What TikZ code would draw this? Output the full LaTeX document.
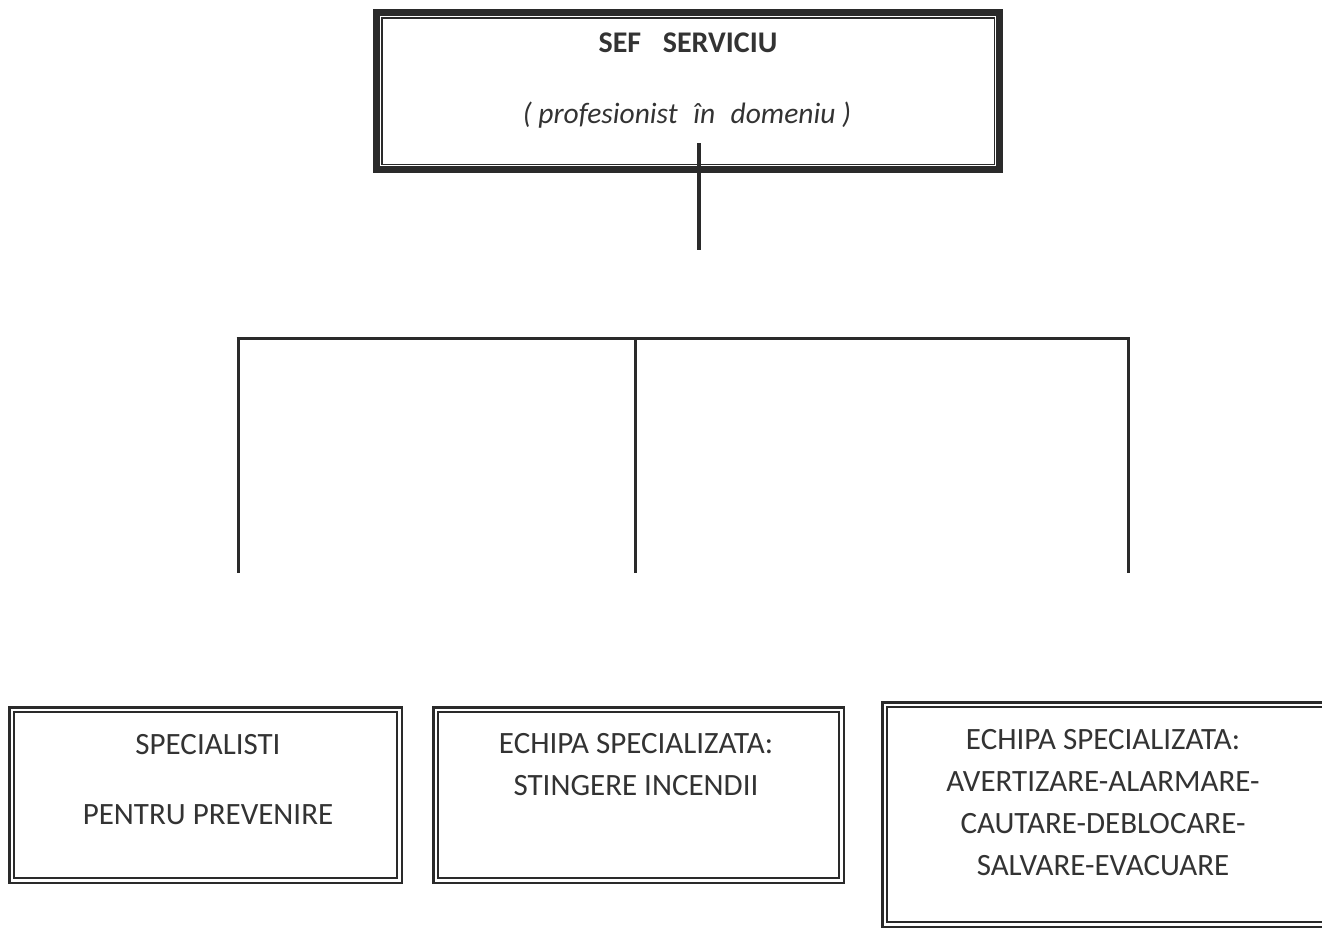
\documentclass[tikz,border=0pt]{standalone}
\usepackage{fontspec}
\setmainfont{Carlito}
\definecolor{ink}{HTML}{2A2A2A}
\definecolor{txt}{HTML}{333333}
\begin{document}
\begin{tikzpicture}[x=1pt,y=-1pt,
  conn/.style={draw=ink,line width=3pt},
  topbox/.style={draw=ink,line width=6.5pt,minimum width=623pt,minimum height=157pt,inner sep=0pt},
  subbox/.style={draw=ink,line width=2.5pt,inner sep=0pt},
  inbox/.style={draw=ink,line width=1.5pt},
  lbl/.style={text=txt,align=center,inner sep=0pt,font=\fontsize{31}{42}\selectfont}
]
\useasboundingbox[fill=white] (0,0) rectangle (1322,930);
% top box
\node[topbox] (top) at (688,91) {};
\draw[inbox] ([shift={(8.5pt,8.5pt)}]top.south west) rectangle ([shift={(-8.5pt,-8.5pt)}]top.north east);
\node[text=txt,inner sep=0pt,font=\fontsize{30}{34}\selectfont\bfseries] (t1) at (688,43) {SEF\hspace{0.72em}SERVICIU};
\node[text=txt,inner sep=0pt,font=\fontsize{29.5}{34}\selectfont\itshape] (t2) at (687,115) {( profesionist\hspace{0.3em} în\hspace{0.3em} domeniu )};
% bottom boxes
\node[subbox,minimum width=392.5pt,minimum height=175.5pt] (b1) at (205.5,795) {};
\node[subbox,minimum width=410.5pt,minimum height=175.5pt] (b2) at (638.5,795) {};
\node[subbox,minimum width=449pt,minimum height=224.5pt] (b3) at (1106.75,814.5) {};
\foreach \b in {b1,b2,b3}
  \draw[inbox] ([shift={(6pt,6pt)}]\b.south west) rectangle ([shift={(-6pt,-6pt)}]\b.north east);
\node[lbl] (l1) at (208,780) {SPECIALISTI\\[28pt]PENTRU PREVENIRE};
\node[lbl] (l2) at (636,765) {ECHIPA SPECIALIZATA:\\STINGERE INCENDII};
\node[lbl] (l3) at (1103,803) {ECHIPA SPECIALIZATA:\\AVERTIZARE-ALARMARE-\\CAUTARE-DEBLOCARE-\\SALVARE-EVACUARE};
% connectors
\coordinate (s0) at (699,143);
\coordinate (s1) at (699,250);
\coordinate (hl) at (236.5,338);
\coordinate (hr) at (1129.5,338);
\coordinate (h1) at (238,338);
\coordinate (h2) at (635,338);
\coordinate (h3) at (1128,338);
\coordinate (d1) at (238,573);
\coordinate (d2) at (635,573);
\coordinate (d3) at (1128,573);
\draw[conn,line width=4pt] (s0) -- (s1);
\draw[conn] (hl) -- (hr);
\draw[conn] (h1) -- (d1);
\draw[conn] (h2) -- (d2);
\draw[conn] (h3) -- (d3);
\end{tikzpicture}
\end{document}
